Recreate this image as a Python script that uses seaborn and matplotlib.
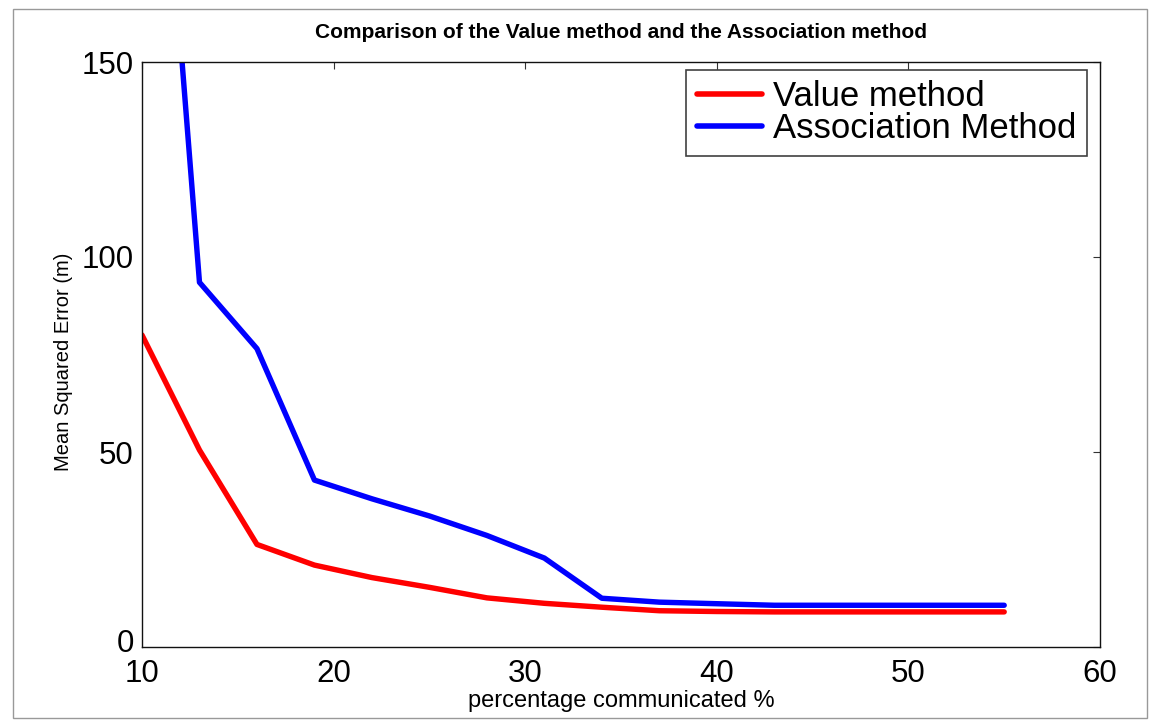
import matplotlib
matplotlib.use("Agg")
import matplotlib.pyplot as plt
import matplotlib.transforms as mtransforms
import seaborn as sns
import pandas as pd
from matplotlib.patches import Rectangle

x_values = [10, 13, 16, 19, 22, 25, 28, 31, 34, 37, 40, 43, 46, 49, 52, 55]
value_method = [80, 50.5, 26.3, 21, 17.8, 15.3, 12.6, 11.2, 10.2, 9.3, 9.1, 9.0, 9.0, 9.0, 9.0, 9.0]
association_method = [280, 93.5, 76.5, 42.8, 38, 33.6, 28.6, 22.8, 12.5, 11.5, 11.1, 10.7, 10.7, 10.7, 10.7, 10.7]
series_names = ["Value method", "Association Method"]
series_colors = ["#ff0000", "#0000ff"]

df = pd.DataFrame({
    "x": x_values * 2,
    "y": value_method + association_method,
    "series": [series_names[0]] * len(x_values) + [series_names[1]] * len(x_values),
})

sns.set_style("white")
plt.rcParams["font.family"] = ["Liberation Sans", "DejaVu Sans"]
plt.rcParams["text.color"] = "black"
plt.rcParams["axes.labelcolor"] = "black"
plt.rcParams["xtick.color"] = "black"
plt.rcParams["ytick.color"] = "black"

fig = plt.figure(figsize=(11.59, 7.27), dpi=100)
ax = fig.add_axes([142 / 1159, 1 - 647 / 727, (1100 - 142) / 1159, (647 - 62) / 727])

sns.lineplot(data=df, x="x", y="y", hue="series", palette=series_colors,
             linewidth=3.9, ax=ax, legend=True)

ax.set_xlim(10, 60)
ax.set_ylim(0, 150)
ax.set_xticks([10, 20, 30, 40, 50, 60])
ax.set_yticks([0, 50, 100, 150])
ax.tick_params(axis="both", direction="in", length=5, width=0.8, labelsize=22.5,
               top=True, right=True, color="#333333", labelcolor="black")
ax.tick_params(axis="x", pad=9)
ax.tick_params(axis="y", pad=6)
for s in ax.spines.values():
    s.set_visible(True)
    s.set_color("#111111")
    s.set_linewidth(1.0)

ax.set_xlabel("percentage communicated %", fontsize=17, labelpad=0)
ax.set_ylabel("Mean Squared Error (m)", fontsize=14.5)
ax.yaxis.set_label_coords(-0.072, 0.488)
ax.set_title("Comparison of the Value method and the Association method",
             fontsize=15, fontweight="bold", pad=17)

leg = ax.legend(loc="upper right", bbox_to_anchor=(0.9864, 0.9863),
                fontsize=25, frameon=True, fancybox=False,
                edgecolor="#111111", borderpad=0.3, labelspacing=-0.03,
                handlelength=1.87, handletextpad=0.33, borderaxespad=0)
leg.get_frame().set_linewidth(1.2)
for line in leg.get_lines():
    line.set_linewidth(4)

# nudge the "0" y tick label up slightly so it does not collide with the "10" x label
fig.canvas.draw()
zero_label = ax.yaxis.get_major_ticks()[0].label1
zero_label.set_transform(zero_label.get_transform() +
                         mtransforms.ScaledTranslation(0, 4.5 / 72, fig.dpi_scale_trans))

fig.patches.append(Rectangle((13 / 1159, 1 - 718 / 727), (1147 - 13) / 1159, (718 - 9) / 727,
                             transform=fig.transFigure, fill=False,
                             edgecolor="#999999", linewidth=1.0))

fig.savefig("out.png", dpi=100)
